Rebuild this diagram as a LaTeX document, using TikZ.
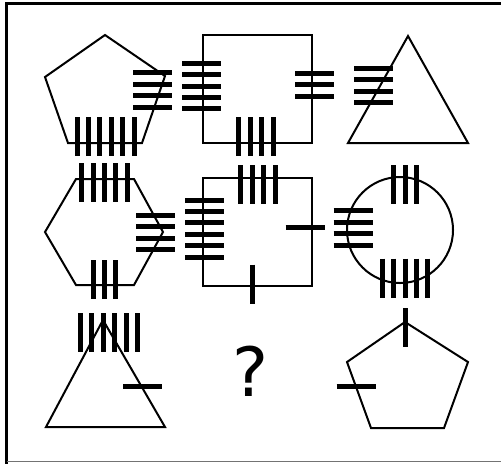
\documentclass[tikz,border=0pt]{standalone}
\usepackage{fontspec}
\newfontfamily\qfont{DejaVu Sans}
\begin{document}
\begin{tikzpicture}[x=0.5pt,y=-0.5pt,
  shapeline/.style={draw=black,line width=1pt,line join=miter},
  bar/.style={draw=black,line width=2.5pt}]
\useasboundingbox (0,0) rectangle (501,463);
\fill[white] (0,0) rectangle (501,463);
% frame
\draw[black,line width=1.2pt] (6.5,470) -- (6.5,3.5) -- (510,3.5);
\draw[black!55,line width=0.8pt] (6.5,461.5) -- (510,461.5);
% bar macros: horizontal group (cx,cy,n), vertical group (cx,cy,n)
\newcommand{\hbarsgrp}[3]{%
  \foreach \i in {1,...,#3}{%
    \draw[bar] ({#1-19.5},{#2+(\i-(#3+1)/2)*11.4}) -- ++(39,0);}}
\newcommand{\vbarsgrp}[3]{%
  \foreach \i in {1,...,#3}{%
    \draw[bar] ({#1+(\i-(#3+1)/2)*11.4},{#2-19.5}) -- ++(0,39);}}
% row 1
\draw[shapeline] (105,35) -- (165,76) -- (142,143) -- (68,143) -- (45,77) -- cycle;
\draw[shapeline] (203,35) rectangle (312,143);
\draw[shapeline] (408,36) -- (468,143) -- (348,143) -- cycle;
% row 2
\draw[shapeline] (45,232) -- (76,179) -- (134,179) -- (163,232) -- (134,285) -- (76,285) -- cycle;
\draw[shapeline] (203,178) rectangle (312,286);
\draw[shapeline] (400,230) circle (53);
% row 3
\draw[shapeline] (103,320) -- (165,427) -- (46,427) -- cycle;
\node (q) at (251,371) {\qfont\fontsize{34pt}{36pt}\selectfont ?};
\draw[shapeline] (405,322) -- (468,362) -- (444,428) -- (371,428) -- (347,362) -- cycle;
% horizontal bar groups
\hbarsgrp{152.5}{90}{4}
\hbarsgrp{201.5}{86}{5}
\hbarsgrp{314.5}{84.7}{3}
\hbarsgrp{373.5}{85.5}{4}
\hbarsgrp{155.5}{232.5}{4}
\hbarsgrp{204.5}{228.5}{6}
\hbarsgrp{305}{227}{1}
\hbarsgrp{353}{228}{4}
\hbarsgrp{142.5}{386}{1}
\hbarsgrp{356}{386}{1}
% vertical bar groups
\vbarsgrp{105.5}{136.5}{6}
\vbarsgrp{256}{136.5}{4}
\vbarsgrp{104.5}{182.5}{5}
\vbarsgrp{104.5}{279.5}{3}
\vbarsgrp{258}{184.5}{4}
\vbarsgrp{252}{284}{1}
\vbarsgrp{405}{184.5}{3}
\vbarsgrp{405}{278}{5}
\vbarsgrp{109}{332.5}{6}
\vbarsgrp{405}{327.5}{1}
\end{tikzpicture}
\end{document}
